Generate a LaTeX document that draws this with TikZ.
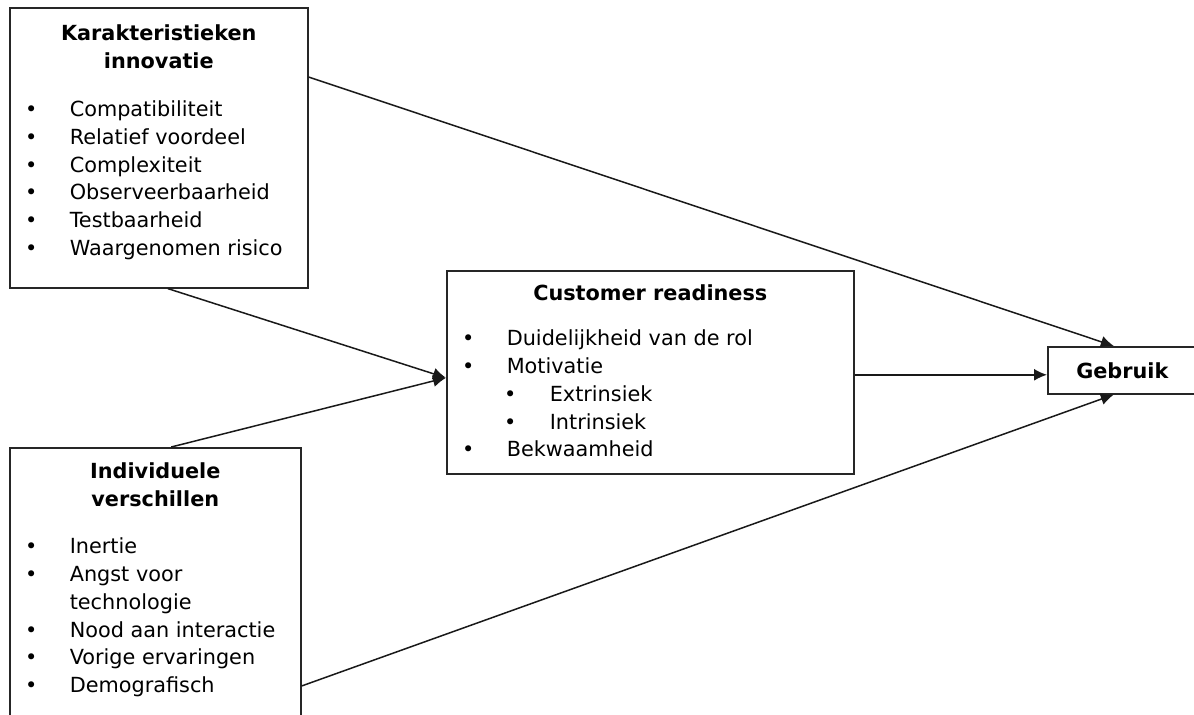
\documentclass[tikz,border=0pt]{standalone}
\usepackage{fontspec}
\setmainfont{DejaVu Sans}
\usetikzlibrary{arrows.meta}

% bullet lines inside the boxes
\newcommand{\itm}[1]{\par\noindent\hangindent=30pt\hangafter=1\hspace*{7.6pt}\makebox[22.4pt][l]{•}#1}
\newcommand{\subitm}[1]{\par\noindent\hspace*{28.6pt}\makebox[22.9pt][l]{•}#1}

\begin{document}
\begin{tikzpicture}[
    x=0.5pt, y=-0.5pt,
    block/.style={rectangle, draw=black!85, line width=0.8pt, inner sep=0pt, anchor=north west,
        font=\fontsize{10.4pt}{13.9pt}\selectfont},
    line/.style={draw=black!90, line width=0.75pt, -{Latex[length=6.5pt,width=6pt]}}
]
\useasboundingbox (0,0) rectangle (1194,715);
\clip (0,0) rectangle (1194,715);

% ----------------------------
% Nodes
% ----------------------------
\node[block] (kar) at (9,7) {\parbox[c][140pt][t]{149pt}{\raggedright\vspace*{8.5pt}%
    {\centering\bfseries Karakteristieken\\innovatie\par}\vspace{10.2pt}%
    \itm{Compatibiliteit}
    \itm{Relatief voordeel}
    \itm{Complexiteit}
    \itm{Observeerbaarheid}
    \itm{Testbaarheid}
    \itm{Waargenomen risico}}};

\node[block] (ind) at (9,447) {\parbox[c][150pt][t]{145.5pt}{\raggedright\vspace*{7.5pt}%
    {\centering\bfseries Individuele\\verschillen\par}\vspace{9.7pt}%
    \itm{Inertie}
    \itm{Angst voor\newline technologie}
    \itm{Nood aan interactie}
    \itm{Vorige ervaringen}
    \itm{Demografisch}}};

\node[block] (cr) at (446,270) {\parbox[c][101.5pt][t]{203.5pt}{\raggedright\vspace*{7pt}%
    {\centering\bfseries Customer readiness\par}\vspace{8.6pt}%
    \itm{Duidelijkheid van de rol}
    \itm{Motivatie}
    \subitm{Extrinsiek}
    \subitm{Intrinsiek}
    \itm{Bekwaamheid}}};

% right edge falls outside the page
\node[block, minimum width=79.5pt, minimum height=23.5pt, font=\fontsize{10.4pt}{13.9pt}\selectfont\bfseries]
    (geb) at (1047,346) {Gebruik\hspace*{5pt}};

% ----------------------------
% Edges
% ----------------------------
\path[line] ([yshift=-35pt]kar.north east) -- ([xshift=-6.75pt]geb.north);

\path[line] ([xshift=4.5pt]kar.south) -- ([yshift=-2.75pt]cr.west);
\path[line] ([xshift=8pt]ind.north) -- ([yshift=-2.75pt]cr.west);

\path[line] ([yshift=-1.25pt]cr.east) -- ([yshift=-1.25pt]cr.east -| geb.west);

\path[line] ([yshift=-119.5pt]ind.north east) -- ([xshift=-6.75pt]geb.south);

\end{tikzpicture}
\end{document}
